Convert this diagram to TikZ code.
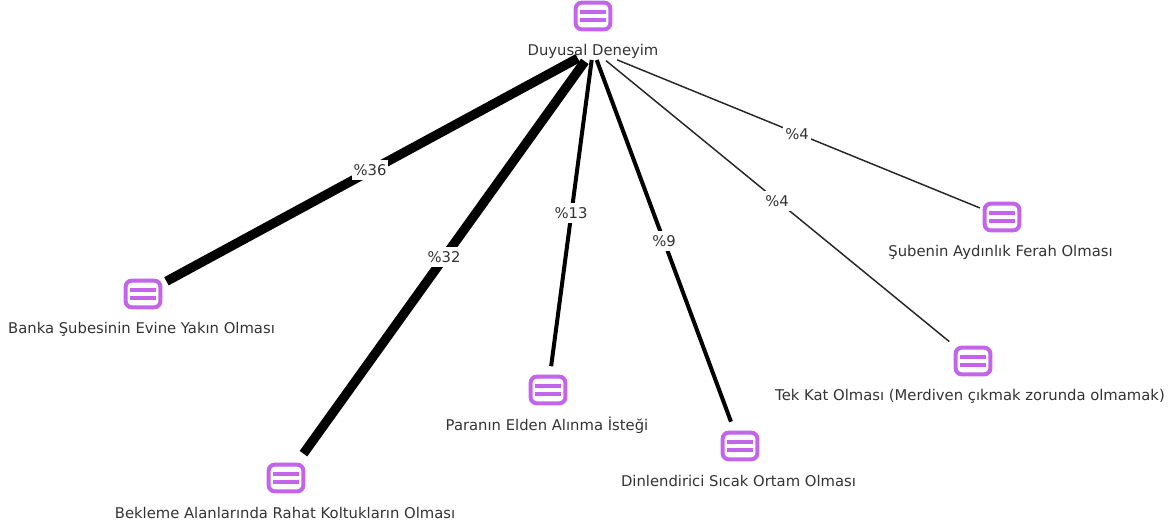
\documentclass[tikz,border=0pt]{standalone}
\usepackage{fontspec}
\setmainfont{DejaVu Sans}
\definecolor{iconc}{HTML}{C265EA}
\definecolor{txtc}{HTML}{333333}
\tikzset{
  iconbox/.style={draw=iconc,fill=white,line width=3pt,rounded corners=4.5pt,minimum width=26pt,minimum height=20pt,inner sep=0pt,
    path picture={\fill[iconc,sharp corners] ([xshift=-10pt,yshift=1.6pt]path picture bounding box.center) rectangle ([xshift=10pt,yshift=4.8pt]path picture bounding box.center);
    \fill[iconc,sharp corners] ([xshift=-10pt,yshift=-4.8pt]path picture bounding box.center) rectangle ([xshift=10pt,yshift=-1.6pt]path picture bounding box.center);}},
  lbl/.style={text=txtc,font=\fontsize{11.1pt}{13pt}\selectfont,inner sep=0pt,anchor=center},
  pct/.style={text=txtc,font=\fontsize{11.1pt}{13pt}\selectfont,fill=white,inner xsep=1.5pt,inner ysep=3pt,anchor=center},
  link/.style={draw=black,line cap=butt},
  heavy/.style={link,line width=7pt},
  mid/.style={link,line width=3pt},
  thin link/.style={link,draw=black!85,line width=1.1pt},
}
\begin{document}
\begin{tikzpicture}[x=0.75pt,y=-0.75pt]
\useasboundingbox (0,0) rectangle (1174,525);
\coordinate (hub) at (593,50);
\node[iconbox] (top) at (593,16) {};
\node[iconbox] (banka) at (143,294) {};
\node[iconbox] (bek) at (286,478) {};
\node[iconbox] (para) at (548,390) {};
\node[iconbox] (din) at (740,446) {};
\node[iconbox] (tek) at (973,361) {};
\node[iconbox] (sube) at (1002,217) {};
\draw[heavy,shorten <=13pt,shorten >=20pt] (hub) -- (banka.center);
\draw[heavy,shorten <=10.5pt,shorten >=22.5pt] (hub) -- (bek.center);
\draw[mid,shorten <=7.5pt,shorten >=18pt] (hub) -- (para.center);
\draw[mid,shorten <=8pt,shorten >=19.5pt] (hub) -- (din.center);
\draw[thin link,shorten <=12.6pt,shorten >=23pt] (hub) -- (tek.center);
\draw[thin link,shorten <=19.5pt,shorten >=18pt] (hub) -- (sube.center);
\node[lbl] (tduy) at (593,51) {Duyusal Deneyim};
\node[lbl] (tbanka) at (141.5,329) {Banka Şubesinin Evine Yakın Olması};
\node[lbl] (tbek) at (285,513) {Bekleme Alanlarında Rahat Koltukların Olması};
\node[lbl] (tpara) at (547,425) {Paranın Elden Alınma İsteği};
\node[lbl] (tdin) at (738.5,481) {Dinlendirici Sıcak Ortam Olması};
\node[lbl] (ttek) at (970,396) {Tek Kat Olması (Merdiven çıkmak zorunda olmamak)};
\node[lbl] (tsube) at (1000.5,252) {Şubenin Aydınlık Ferah Olması};
\node[pct] (p1) at (370,170) {\%36};
\node[pct] (p2) at (444,257) {\%32};
\node[pct] (p3) at (571,213) {\%13};
\node[pct] (p4) at (664,241) {\%9};
\node[pct] (p5) at (777,201) {\%4};
\node[pct] (p6) at (797,134) {\%4};
\end{tikzpicture}
\end{document}
